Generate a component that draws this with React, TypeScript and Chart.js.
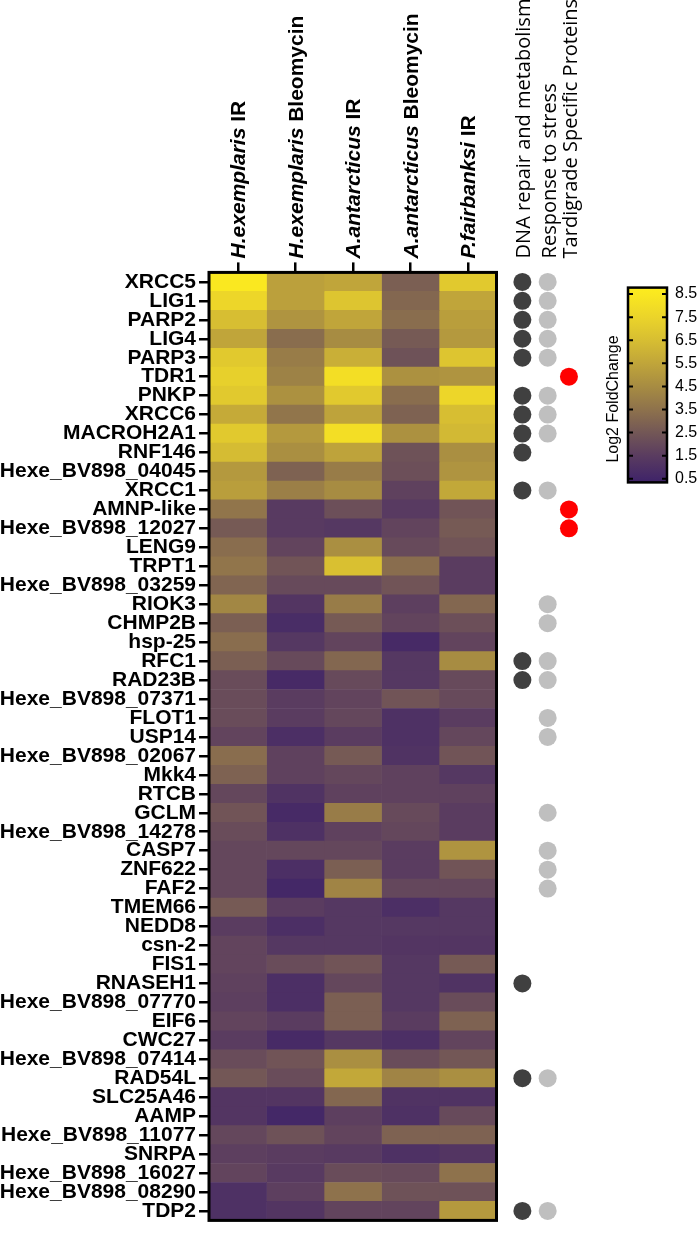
import React, { useEffect, useRef } from 'react';
import { Chart, registerables } from 'chart.js';

Chart.register(...registerables);

// ---------------- data ----------------
const genes = [
  'XRCC5', 'LIG1', 'PARP2', 'LIG4', 'PARP3', 'TDR1', 'PNKP', 'XRCC6', 'MACROH2A1', 'RNF146',
  'Hexe_BV898_04045', 'XRCC1', 'AMNP-like', 'Hexe_BV898_12027', 'LENG9', 'TRPT1', 'Hexe_BV898_03259', 'RIOK3', 'CHMP2B', 'hsp-25',
  'RFC1', 'RAD23B', 'Hexe_BV898_07371', 'FLOT1', 'USP14', 'Hexe_BV898_02067', 'Mkk4', 'RTCB', 'GCLM', 'Hexe_BV898_14278',
  'CASP7', 'ZNF622', 'FAF2', 'TMEM66', 'NEDD8', 'csn-2', 'FIS1', 'RNASEH1', 'Hexe_BV898_07770', 'EIF6',
  'CWC27', 'Hexe_BV898_07414', 'RAD54L', 'SLC25A46', 'AAMP', 'Hexe_BV898_11077', 'SNRPA', 'Hexe_BV898_16027', 'Hexe_BV898_08290', 'TDP2',
];

const columnSpecies = ['H.exemplaris', 'H.exemplaris', 'A.antarcticus', 'A.antarcticus', 'P.fairbanksi'];
const columnTreatments = ['IR', 'Bleomycin', 'IR', 'Bleomycin', 'IR'];

const hexIR = [8.5, 7.6, 6.5, 5.5, 7.0, 7.3, 7.0, 5.7, 7.0, 6.4, 5.0, 5.2, 3.6, 2.6, 3.3, 3.6, 3.0, 4.3, 2.8, 3.3, 2.8, 2.1, 2.1, 2.1, 1.8, 3.3, 2.9, 1.9, 2.4, 2.1, 1.9, 1.9, 1.9, 2.6, 1.5, 1.8, 1.8, 1.7, 1.6, 1.8, 1.5, 2.1, 2.5, 1.2, 1.2, 1.9, 1.6, 1.8, 1.0, 1.0];
const hexBleo = [5.3, 5.3, 4.8, 3.3, 3.9, 4.1, 4.7, 3.6, 5.0, 4.6, 2.9, 4.0, 1.4, 1.4, 1.8, 2.4, 2.0, 1.2, 0.8, 1.3, 2.0, 0.7, 1.5, 1.5, 0.9, 1.7, 1.7, 1.1, 0.7, 1.0, 1.9, 0.9, 0.6, 1.5, 0.9, 1.3, 2.1, 0.9, 0.9, 1.5, 0.7, 2.4, 2.1, 1.2, 0.6, 2.3, 1.5, 1.4, 1.6, 1.2];
const aantIR = [5.5, 6.8, 5.5, 4.5, 5.9, 8.0, 7.0, 5.4, 8.0, 5.4, 3.9, 4.5, 2.2, 1.3, 4.6, 6.6, 2.0, 3.9, 2.6, 1.8, 3.1, 2.0, 1.8, 1.9, 1.5, 2.6, 1.9, 1.7, 3.9, 1.7, 1.9, 2.8, 4.2, 1.3, 1.3, 1.3, 2.4, 1.9, 2.8, 2.8, 1.3, 4.6, 5.6, 3.1, 1.6, 1.8, 1.4, 2.1, 3.5, 1.8];
const aantBleo = [2.8, 3.1, 3.3, 2.6, 2.3, 4.7, 3.3, 2.9, 4.7, 2.3, 2.2, 1.7, 1.4, 1.8, 2.0, 3.3, 2.4, 1.6, 1.8, 0.7, 1.3, 1.3, 2.4, 1.0, 1.0, 1.1, 1.7, 1.7, 2.0, 1.9, 1.5, 1.5, 1.9, 0.9, 1.3, 1.2, 1.3, 1.3, 1.3, 1.5, 0.9, 2.1, 4.2, 1.1, 1.0, 2.9, 1.0, 2.0, 2.3, 1.8];
const pfIR = [7.0, 5.5, 5.2, 5.0, 6.8, 4.8, 7.6, 6.5, 6.3, 4.6, 4.8, 5.6, 2.4, 2.6, 2.4, 1.5, 1.5, 3.1, 2.2, 1.8, 4.5, 2.0, 2.0, 1.5, 1.9, 2.4, 1.3, 1.7, 1.5, 1.5, 4.8, 2.4, 1.9, 1.3, 1.3, 1.2, 2.6, 1.1, 2.1, 2.9, 1.8, 2.5, 4.6, 1.1, 2.0, 2.9, 1.2, 3.5, 2.3, 5.0];

const categoryNames = ['DNA repair and metabolism', 'Response to stress', 'Tardigrade Specific Proteins'];
const dnaRepairGenes = ['XRCC5', 'LIG1', 'PARP2', 'LIG4', 'PARP3', 'PNKP', 'XRCC6', 'MACROH2A1', 'RNF146', 'XRCC1', 'RFC1', 'RAD23B', 'RNASEH1', 'RAD54L', 'TDP2'];
const stressGenes = ['XRCC5', 'LIG1', 'PARP2', 'LIG4', 'PARP3', 'PNKP', 'XRCC6', 'MACROH2A1', 'XRCC1', 'RIOK3', 'CHMP2B', 'RFC1', 'RAD23B', 'FLOT1', 'USP14', 'GCLM', 'CASP7', 'ZNF622', 'FAF2', 'RAD54L', 'TDP2'];
const tardigradeGenes = ['TDR1', 'AMNP-like', 'Hexe_BV898_12027'];

const colorbarTicks = [0.5, 1.5, 2.5, 3.5, 4.5, 5.5, 6.5, 7.5, 8.5];
const colorbarTitle = 'Log2 FoldChange';

// ---------------- styles ----------------
const matrix = [hexIR, hexBleo, aantIR, aantBleo, pfIR];
const categoryLists = [dnaRepairGenes, stressGenes, tardigradeGenes];
const DOT_X = [5.45, 5.89, 6.26];
const DOT_COLORS = ['#404040', '#bfbfbf', '#ff0000'];
const X_MAX = 6.6;
const CB_MIN = 0.34;
const CB_MAX = 8.78;
const SANS = "'Liberation Sans', Arial, sans-serif";

const STOPS: [number, number[]][] = [
  [0.3, [62, 34, 104]],
  [0.5, [66, 38, 104]],
  [1.5, [90, 60, 96]],
  [2.5, [115, 87, 86]],
  [3.5, [142, 114, 76]],
  [4.5, [167, 140, 66]],
  [5.5, [192, 165, 58]],
  [6.5, [215, 190, 50]],
  [7.5, [235, 212, 42]],
  [8.5, [250, 232, 32]],
  [8.8, [253, 236, 30]],
];

function colorFor(v: number): string {
  if (v <= STOPS[0][0]) return `rgb(${STOPS[0][1].join(',')})`;
  for (let i = 1; i < STOPS.length; i++) {
    const [v1, c1] = STOPS[i];
    const [v0, c0] = STOPS[i - 1];
    if (v <= v1) {
      const t = (v - v0) / (v1 - v0);
      const c = c0.map((a, k) => Math.round(a + (c1[k] - a) * t));
      return `rgb(${c.join(',')})`;
    }
  }
  return `rgb(${STOPS[STOPS.length - 1][1].join(',')})`;
}

const heatPlugin = {
  id: 'heatDecor',
  afterDraw(chart: any) {
    const { ctx, chartArea } = chart;
    const xs = chart.scales.x;
    const { left, top, bottom } = chartArea;
    ctx.save();
    ctx.strokeStyle = '#000';
    ctx.lineWidth = 3;
    ctx.strokeRect(left, top, xs.getPixelForValue(5) - left, bottom - top);
    ctx.fillStyle = '#000';
    ctx.textBaseline = 'alphabetic';
    ctx.textAlign = 'left';
    columnSpecies.forEach((sp, c) => {
      const px = xs.getPixelForValue(c + 0.5);
      ctx.save();
      ctx.translate(px + 7.5, top - 14);
      ctx.rotate(-Math.PI / 2);
      ctx.font = `italic bold 21px ${SANS}`;
      ctx.fillText(sp, 0, 0);
      const w = ctx.measureText(sp).width;
      ctx.font = `bold 21px ${SANS}`;
      ctx.fillText(' ' + columnTreatments[c], w, 0);
      ctx.restore();
    });
    categoryNames.forEach((name, k) => {
      const px = xs.getPixelForValue(DOT_X[k]);
      ctx.save();
      ctx.translate(px + 8, top - 14);
      ctx.rotate(-Math.PI / 2);
      ctx.font = `20px 'Open Sans', sans-serif`;
      ctx.fillText(name, 0, 0);
      ctx.restore();
    });
    ctx.restore();
  },
};

const cbPlugin = {
  id: 'cbDecor',
  afterDraw(chart: any) {
    const { ctx, chartArea } = chart;
    const ys = chart.scales.y;
    const { left, right, top, bottom } = chartArea;
    ctx.save();
    ctx.strokeStyle = '#000';
    ctx.lineWidth = 2.5;
    ctx.strokeRect(left, top, right - left, bottom - top);
    ctx.lineWidth = 2;
    colorbarTicks.forEach((v) => {
      const y = ys.getPixelForValue(v);
      ctx.beginPath();
      ctx.moveTo(left, y);
      ctx.lineTo(left + 5, y);
      ctx.moveTo(right - 5, y);
      ctx.lineTo(right, y);
      ctx.stroke();
    });
    ctx.fillStyle = '#000';
    ctx.font = `16px ${SANS}`;
    ctx.textAlign = 'center';
    ctx.textBaseline = 'alphabetic';
    ctx.translate(left - 10, (top + bottom) / 2 + 14);
    ctx.rotate(-Math.PI / 2);
    ctx.fillText(colorbarTitle, 0, 0);
    ctx.restore();
  },
};

export default function App() {
  const mainRef = useRef<HTMLCanvasElement>(null);
  const cbRef = useRef<HTMLCanvasElement>(null);

  useEffect(() => {
    const heatDatasets: any[] = matrix.map((vals, c) => ({
      type: 'bar',
      label: columnSpecies[c] + ' ' + columnTreatments[c],
      data: genes.map(() => [c, c + 1]),
      backgroundColor: vals.map(colorFor),
      borderWidth: 0,
      grouped: false,
      barPercentage: 1,
      categoryPercentage: 1,
      order: 2,
    }));
    const dotDatasets: any[] = categoryLists.map((list, k) => ({
      type: 'line',
      label: categoryNames[k],
      data: list.map((g) => ({ x: DOT_X[k], y: g })),
      showLine: false,
      pointRadius: 9,
      pointBackgroundColor: DOT_COLORS[k],
      pointBorderWidth: 0,
      clip: false,
      order: 1,
    }));

    const main = new Chart(mainRef.current as HTMLCanvasElement, {
      type: 'bar',
      data: { labels: genes, datasets: [...heatDatasets, ...dotDatasets] },
      options: {
        indexAxis: 'y',
        responsive: false,
        animation: false,
        events: [],
        layout: { padding: { left: 0, top: 0, right: 11.5, bottom: 4.4 } },
        plugins: { legend: { display: false }, tooltip: { enabled: false } },
        scales: {
          x: {
            type: 'linear',
            position: 'top',
            min: 0,
            max: X_MAX,
            afterBuildTicks: (s: any) => {
              s.ticks = columnSpecies.map((_, i) => ({ value: i + 0.5 }));
            },
            afterFit: (s: any) => {
              s.height = 272.4;
            },
            ticks: { callback: () => '', autoSkip: false },
            grid: { drawOnChartArea: false, drawTicks: true, tickLength: 10, color: '#000', lineWidth: 2.5 },
            border: { display: false },
          },
          y: {
            type: 'category',
            offset: true,
            afterFit: (s: any) => {
              s.width = 209;
            },
            ticks: { autoSkip: false, color: '#000', padding: 3, font: { family: SANS, size: 21, weight: 'bold' } },
            grid: { offset: false, drawOnChartArea: false, drawTicks: true, tickLength: 10, color: '#000', lineWidth: 2.5 },
            border: { display: false },
          },
        },
      } as any,
      plugins: [heatPlugin],
    });

    const cb = new Chart(cbRef.current as HTMLCanvasElement, {
      type: 'bar',
      data: {
        labels: [colorbarTitle],
        datasets: [
          {
            data: [[CB_MIN, CB_MAX]] as any,
            backgroundColor: (ctx: any) => {
              const chart = ctx.chart;
              if (!chart.chartArea) return 'rgba(0,0,0,0)';
              const ys = chart.scales.y;
              const g = chart.ctx.createLinearGradient(0, ys.getPixelForValue(CB_MIN), 0, ys.getPixelForValue(CB_MAX));
              STOPS.forEach(([v]) => {
                const t = Math.min(1, Math.max(0, (v - CB_MIN) / (CB_MAX - CB_MIN)));
                g.addColorStop(t, colorFor(v));
              });
              return g;
            },
            borderWidth: 0,
            barPercentage: 1,
            categoryPercentage: 1,
          },
        ],
      },
      options: {
        responsive: false,
        animation: false,
        events: [],
        layout: { padding: { left: 28, top: 10, bottom: 8, right: 0 } },
        plugins: { legend: { display: false }, tooltip: { enabled: false } },
        scales: {
          x: { display: false },
          y: {
            position: 'right',
            min: CB_MIN,
            max: CB_MAX,
            afterBuildTicks: (s: any) => {
              s.ticks = colorbarTicks.map((v) => ({ value: v }));
            },
            afterFit: (s: any) => {
              s.width = 33;
            },
            ticks: { color: '#000', padding: 8, font: { family: SANS, size: 16 }, callback: (v: any) => Number(v).toFixed(1) },
            grid: { display: false, drawTicks: false, tickLength: 0 },
            border: { display: false },
          },
        },
      } as any,
      plugins: [cbPlugin],
    });

    return () => {
      main.destroy();
      cb.destroy();
    };
  }, []);

  return (
    <div style={{ position: 'absolute', left: 0, top: 0, width: 700, height: 1236, background: '#fff' }}>
      <canvas ref={mainRef} width={600} height={1236} style={{ position: 'absolute', left: 0, top: 0 }} />
      <canvas ref={cbRef} width={100} height={230} style={{ position: 'absolute', left: 600, top: 270 }} />
    </div>
  );
}
